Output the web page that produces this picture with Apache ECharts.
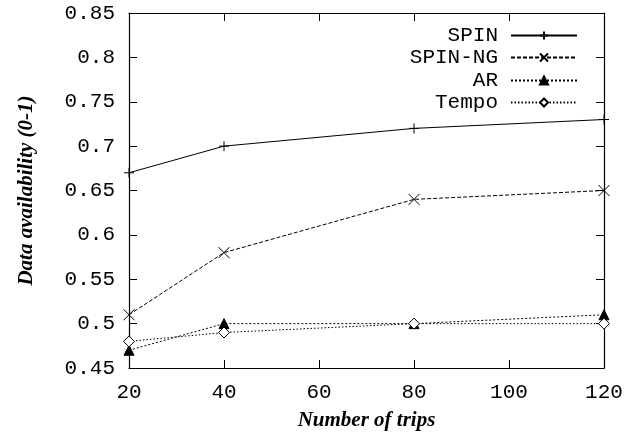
<!DOCTYPE html>
<html><head><meta charset="utf-8">
<script src="https://cdn.jsdelivr.net/npm/echarts@6/dist/echarts.min.js"></script>
<style>html,body{margin:0;padding:0;background:#fff}#c{width:640px;height:437px}</style>
</head><body><div id="c"></div>
<script>
const trips = [20, 40, 80, 120];
const spin = [0.67, 0.70, 0.72, 0.73];
const spinNg = [0.51, 0.58, 0.64, 0.65];
const ar = [0.47, 0.50, 0.50, 0.51];
const tempo = [0.48, 0.49, 0.50, 0.50];
const seriesNames = ['SPIN', 'SPIN-NG', 'AR', 'Tempo'];
const xTicks = [20, 40, 60, 80, 100, 120];
const yTicks = [0.45, 0.5, 0.55, 0.6, 0.65, 0.7, 0.75, 0.8, 0.85];

const mono = 'Liberation Mono';
const pairs = a => trips.map((t, i) => [t, a[i]]);
const crossPath = 'path://M0,-5L0,5M-5,0L5,0';
const xPath = 'path://M-5,-5L5,5M-5,5L5,-5';

function mk(name, data, sym, size, dash, fill) {
  return {
    name, type: 'line', data: pairs(data), symbol: sym, symbolSize: size,
    showSymbol: true, animation: false,
    lineStyle: { color: '#000', width: 1, type: dash },
    itemStyle: { color: fill, borderColor: '#000', borderWidth: 1 },
    emphasis: { disabled: true }
  };
}

const axisCommon = {
  axisLine: { show: true, lineStyle: { color: '#000', width: 1.2 } },
  axisTick: { show: true, inside: true, length: 8, lineStyle: { color: '#000' } },
  splitLine: { show: false }
};

const titleFont = { fontFamily: 'Liberation Serif', fontStyle: 'italic', fontWeight: 'bold', fontSize: 21, color: '#000' };
const legendTops = [20, 42, 65, 87];
const option = {
  animation: false,
  grid: { left: 129, right: 36, top: 13, bottom: 69, show: false, containLabel: false, outerBoundsMode: 'none' },
  xAxis: [
    Object.assign({ type: 'value', min: xTicks[0], max: xTicks[xTicks.length-1], interval: 20, position: 'bottom',
      name: 'Number of trips', nameLocation: 'middle', nameGap: 42, nameTextStyle: titleFont,
      axisLabel: { fontFamily: mono, fontSize: 21, color: '#000', margin: 14 } }, axisCommon),
    Object.assign({ type: 'value', min: xTicks[0], max: xTicks[xTicks.length-1], interval: 20, position: 'top',
      axisLabel: { show: false } }, axisCommon)
  ],
  yAxis: [
    Object.assign({ type: 'value', min: yTicks[0], max: yTicks[yTicks.length-1], interval: 0.05, position: 'left',
      name: 'Data availability (0-1)', nameLocation: 'middle', nameGap: 92, nameRotate: 90, nameTextStyle: titleFont,
      axisLabel: { fontFamily: mono, fontSize: 21, color: '#000', margin: 14,
        formatter: v => String(parseFloat(v.toFixed(2))) } }, axisCommon),
    Object.assign({ type: 'value', min: yTicks[0], max: yTicks[yTicks.length-1], interval: 0.05, position: 'right',
      axisLabel: { show: false } }, axisCommon)
  ],
  legend: seriesNames.map((n, i) => ({
    data: [n], right: 57, top: legendTops[i], align: 'right', orient: 'vertical',
    itemWidth: 66, itemHeight: 10, itemGap: 10, selectedMode: false,
    textStyle: { fontFamily: mono, fontSize: 21, color: '#000', padding: [0, 8, 0, 0] }
  })),
  series: [
    mk('SPIN', spin, crossPath, 10, 'solid', 'rgba(0,0,0,0)'),
    mk('SPIN-NG', spinNg, xPath, 11, [4, 2], 'rgba(0,0,0,0)'),
    mk('AR', ar, 'triangle', 10, [2, 2], '#000'),
    mk('Tempo', tempo, 'diamond', 11, [1.5, 2], '#fff')
  ]
};
echarts.init(document.getElementById('c')).setOption(option);
</script></body></html>
